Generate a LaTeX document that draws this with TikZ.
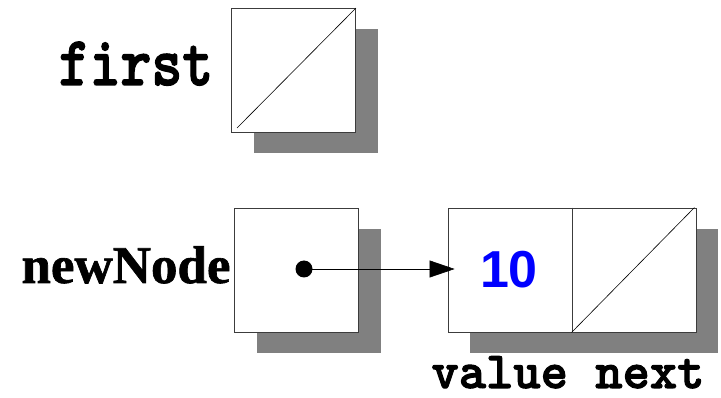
\documentclass[tikz,border=0pt]{standalone}
\usepackage{fontspec}
\usepackage{graphicx}
\usetikzlibrary{shadows,arrows.meta}
\newfontfamily\codefont{Latin Modern Mono Light}[BoldFeatures={FakeBold=2}]
\newfontfamily\labelserif{Liberation Serif}[BoldFeatures={FakeBold=1.2}]
\newfontfamily\valuefont{Liberation Sans}
\definecolor{shadowgray}{RGB}{128,128,128}
\definecolor{edgegray}{RGB}{60,60,60}
\definecolor{valueblue}{RGB}{0,0,255}

\tikzset{
  cell/.style={draw=edgegray, line width=0.8pt, fill=white, inner sep=0pt,
    minimum width=124pt, minimum height=124pt,
    drop shadow={shadow xshift=22pt, shadow yshift=-21pt, fill=shadowgray, opacity=1}},
  slash/.style={draw=black, line width=0.6pt},
  pointer/.style={draw=black, line width=0.6pt, -{Triangle[length=25pt,width=17pt]}},
  varname/.style={anchor=base, inner sep=0pt, font=\fontsize{50}{60}\selectfont}
}

\begin{document}
\begin{tikzpicture}[x=1pt,y=-1pt]
  \path[use as bounding box] (0,0) rectangle (721,398);

  % variable "first": a null reference
  \node[cell] (firstbox) at (293.5,70.5) {};
  \draw[slash] ([shift={(6pt,5pt)}]firstbox.south west) -- (firstbox.north east);
  \node[varname, font=\fontsize{56}{60}\selectfont] (firstlabel) at (136,85)
    {\scalebox{1.05}[1.25]{\codefont\bfseries first}};

  % variable "newNode" pointing to the new list node
  \node[cell] (newbox) at (296.5,270) {};
  \node[varname, font=\fontsize{53}{60}\selectfont] (newlabel) at (126,283)
    {\labelserif\bfseries newNode};
  \coordinate (ptr) at (304,269);

  % the list node: value field and next field
  \node[cell] (value) at (510,270) {};
  \node[cell] (next) at (634,270) {};
  \draw[draw=edgegray, line width=0.8pt] (value.north east) -- (value.south east);
  \draw[slash] (next.south west) -- ([shift={(-2pt,0pt)}]next.north east);
  \node[inner sep=0pt, text=valueblue, font=\fontsize{52}{60}\selectfont]
    (num) at (509,270) {\valuefont\bfseries 10};

  % reference arrow
  \draw[pointer] (ptr) -- ([xshift=7pt]value.west |- ptr);
  \fill[black] (ptr) circle (8.5pt);

  % field names
  \node[varname, font=\fontsize{52}{60}\selectfont] (fields) at (568,388)
    {\codefont\bfseries value next};
\end{tikzpicture}
\end{document}
